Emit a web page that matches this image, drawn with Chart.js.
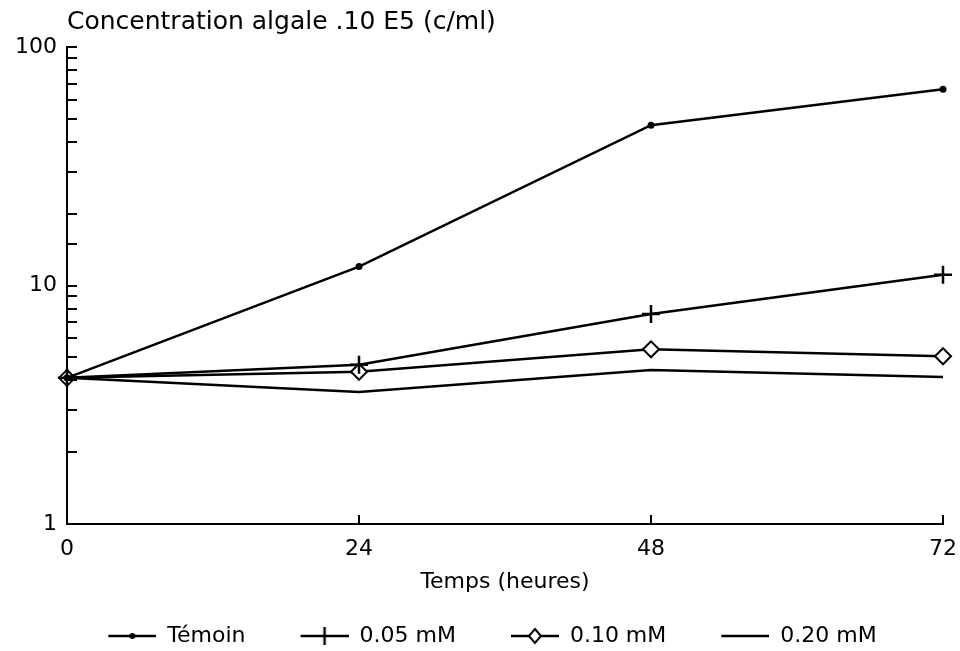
<!DOCTYPE html>
<html>
<head>
<meta charset="utf-8">
<script src="https://cdn.jsdelivr.net/npm/chart.js@4.4.0/dist/chart.umd.min.js"></script>
<style>
  html, body { margin: 0; background: #fff; }
</style>
</head>
<body>
<canvas id="algae" width="960" height="651"></canvas>
<script>
// Croissance algale (log) selon la concentration

const hours = [0, 24, 48, 72]
const temoin = [4.1, 12.0, 47, 66.5]
const mM005 = [4.1, 4.65, 7.6, 11.1]
const mM010 = [4.1, 4.35, 5.4, 5.05]
const mM020 = [4.1, 3.58, 4.42, 4.13]
const seriesNames = ['Témoin', '0.05 mM', '0.10 mM', '0.20 mM']
const yLabels = [1, 10, 100]
const yTitle = 'Concentration algale .10 E5 (c/ml)'
const xTitle = 'Temps (heures)'

Chart.defaults.font.family = 'DejaVu Sans'
Chart.defaults.color = '#000'

const toPoints = vals => hours.map((h, i) => ({ x: h, y: vals[i] }))

// legend samples: transparent left part, line + marker on the right 48px
function legendIcon(kind) {
  const c = document.createElement('canvas')
  c.width = 76
  c.height = 24
  const g = c.getContext('2d')
  g.strokeStyle = '#000'
  g.fillStyle = '#000'
  g.lineWidth = 2.5
  g.beginPath()
  g.moveTo(28, 12)
  g.lineTo(76, 12)
  g.stroke()
  const cx = 52
  if (kind === 'dot') {
    g.beginPath()
    g.arc(cx, 12, 3, 0, Math.PI * 2)
    g.fill()
  } else if (kind === 'cross') {
    g.beginPath()
    g.moveTo(cx, 3)
    g.lineTo(cx, 21)
    g.stroke()
  } else if (kind === 'diamond') {
    g.fillStyle = '#fff'
    g.lineWidth = 2
    g.beginPath()
    g.moveTo(cx, 5)
    g.lineTo(cx + 6, 12)
    g.lineTo(cx, 19)
    g.lineTo(cx - 6, 12)
    g.closePath()
    g.fill()
    g.stroke()
  }
  return c
}
const icons = [legendIcon('dot'), legendIcon('cross'), legendIcon('diamond'), legendIcon('none')]

// small ticks pointing into the plot, like the original
const innerTicks = {
  id: 'innerTicks',
  afterDatasetsDraw(chart) {
    const { ctx, chartArea } = chart
    const y = chart.scales.y
    const x = chart.scales.x
    ctx.save()
    ctx.strokeStyle = '#000'
    ctx.lineWidth = 2
    y.ticks.forEach(t => {
      const py = Math.round(y.getPixelForValue(t.value))
      ctx.beginPath()
      ctx.moveTo(chartArea.left, py)
      ctx.lineTo(chartArea.left + 10, py)
      ctx.stroke()
    })
    hours.slice(1).forEach(h => {
      const px = Math.round(x.getPixelForValue(h))
      ctx.beginPath()
      ctx.moveTo(px, chartArea.bottom)
      ctx.lineTo(px, chartArea.bottom - 9)
      ctx.stroke()
    })
    ctx.font = '25px "DejaVu Sans"'
    ctx.fillStyle = '#000'
    ctx.textBaseline = 'middle'
    ctx.textAlign = 'left'
    ctx.fillText(yTitle, chartArea.left, 22)
    ctx.restore()
  }
}

const ctx = document.getElementById('algae').getContext('2d')
const algae = new Chart(ctx, {
  type: 'line',
  data: {
    datasets: [{
      label: seriesNames[0],
      data: toPoints(temoin),
      borderColor: '#000',
      backgroundColor: '#000',
      borderWidth: 2.5,
      pointStyle: 'circle',
      pointRadius: 3.5,
      pointBorderWidth: 0,
      clip: false
    }, {
      label: seriesNames[1],
      data: toPoints(mM005),
      borderColor: '#000',
      backgroundColor: '#000',
      borderWidth: 2.5,
      pointStyle: 'cross',
      pointRadius: 9,
      pointBorderWidth: 2.5,
      clip: false
    }, {
      label: seriesNames[2],
      data: toPoints(mM010),
      borderColor: '#000',
      backgroundColor: '#fff',
      borderWidth: 2.5,
      pointStyle: 'rectRot',
      pointRadius: 8,
      pointBorderWidth: 2,
      clip: false
    }, {
      label: seriesNames[3],
      data: toPoints(mM020),
      borderColor: '#000',
      borderWidth: 2.5,
      pointRadius: 0,
      clip: false
    }]
  },
  options: {
    responsive: false,
    animation: false,
    devicePixelRatio: 1,
    layout: {
      padding: { top: 47, right: 3, left: 0, bottom: -6 }
    },
    scales: {
      x: {
        type: 'linear',
        min: 0,
        max: 72,
        afterFit: s => {
          s.height = 74
          s.paddingRight = 17
        },
        ticks: { stepSize: 24, padding: 12, font: { size: 22 }, color: '#000' },
        grid: { drawOnChartArea: false, drawTicks: false },
        border: { color: '#000', width: 2 },
        title: { display: true, text: xTitle, font: { size: 22 }, color: '#000', padding: { top: 4, bottom: 3 } }
      },
      y: {
        type: 'logarithmic',
        min: 1,
        max: 100,
        afterFit: s => { s.width = 67 },
        ticks: {
          autoSkip: false,
          padding: 10,
          font: { size: 22 },
          color: '#000',
          callback: v => yLabels.includes(v) ? String(v) : ''
        },
        grid: { drawOnChartArea: false, drawTicks: false },
        border: { color: '#000', width: 2 }
      }
    },
    plugins: {
      tooltip: { enabled: false },
      legend: {
        position: 'bottom',
        labels: {
          usePointStyle: true,
          pointStyleWidth: 76,
          padding: 27,
          font: { size: 22 },
          color: '#000',
          generateLabels: chart => chart.data.datasets.map((d, i) => ({
            text: d.label,
            pointStyle: icons[i],
            fillStyle: '#000',
            strokeStyle: '#000',
            lineWidth: 0,
            hidden: false,
            datasetIndex: i
          }))
        }
      }
    }
  },
  plugins: [innerTicks]
})
</script>
</body>
</html>
